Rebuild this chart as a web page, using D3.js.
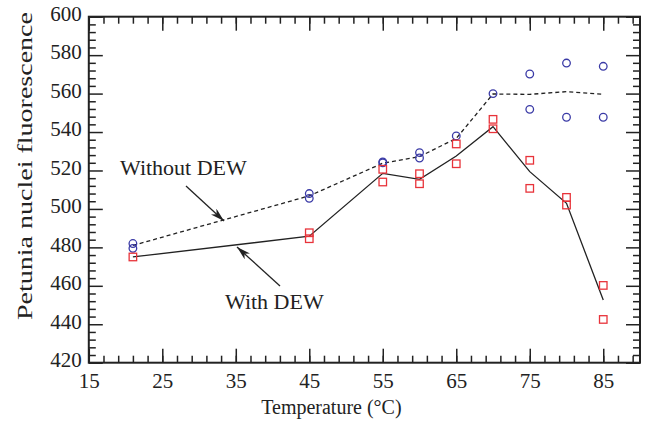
<!DOCTYPE html>
<html><head><meta charset="utf-8">
<script src="https://cdn.jsdelivr.net/npm/d3@7"></script>
<style>
body{margin:0;background:#fff;}
svg text{font-family:"Liberation Serif","Times New Roman",serif;fill:#222;}
</style></head>
<body><svg id="c" width="645" height="424"></svg>
<script>
// ---- data ----
const xMajorTicks = [15,25,35,45,55,65,75,85];
const yMajorTicks = [420,440,460,480,500,520,540,560,580,600];
const withoutX = [21,21,45,45,55,55,60,60,65,70,75,75,80,80,85,85];
const withoutY = [482,479.5,508,505.5,524.5,524,529.3,526.5,538,560,570.2,551.8,575.9,547.7,574.2,547.7];
const withX = [21,45,45,55,55,60,60,65,65,70,70,75,75,80,80,85,85];
const withY = [475,487.6,484.5,520.6,514,518.3,513.1,533.8,523.5,546.6,541.7,525.3,510.7,506,502,460.2,442.5];
const withoutLineX = [21,45,55,60,65,70,75,80,85];
const withoutLineY = [481,506.8,523.8,527.2,536.7,559.8,559.6,561,559.6];
const withLineX = [21,45,55,60,65,70,75,80,85];
const withLineY = [475,485.8,518.5,515.4,527.5,542.8,519.4,502.9,452.6];
const labels = {x:"Temperature (°C)", y:"Petunia nuclei fluorescence", without:"Without DEW", with:"With DEW"};

const svg = d3.select("#c");
const L=88.8, R=640, T=16.7, B=362.7;
const x = d3.scaleLinear().domain([15,90]).range([L,R]);
const y = d3.scaleLinear().domain([420,600]).range([B,T]);
const xMinor = d3.range(17,90,2);
const yMinor = d3.range(424,600,4).filter(v=>(v-420)%20!==0);

function styleAxis(g){ g.select(".domain").remove(); g.selectAll(".tick line").attr("stroke","#222").attr("stroke-width",1.5); }
// bottom
svg.append("g").attr("transform",`translate(0,${B})`).call(d3.axisBottom(x).tickValues(xMajorTicks).tickSize(-14).tickPadding(0).tickFormat(d3.format("d")))
  .call(styleAxis).call(g=>g.selectAll("text").attr("font-size",21).attr("dy","1.05em").attr("y",3).style("font-family","Liberation Serif"));
svg.append("g").attr("transform",`translate(0,${B})`).call(d3.axisBottom(x).tickValues(xMinor).tickSize(-7).tickFormat("")).call(styleAxis);
// top
svg.append("g").attr("transform",`translate(0,${T})`).call(d3.axisTop(x).tickValues(xMajorTicks).tickSize(-14).tickFormat("")).call(styleAxis);
svg.append("g").attr("transform",`translate(0,${T})`).call(d3.axisTop(x).tickValues(xMinor).tickSize(-7).tickFormat("")).call(styleAxis);
// left
svg.append("g").attr("transform",`translate(${L},0)`).call(d3.axisLeft(y).tickValues(yMajorTicks).tickSize(-14).tickPadding(0).tickFormat(d3.format("d")))
  .call(styleAxis).call(g=>g.selectAll("text").attr("font-size",21).attr("x",-7).attr("dy","0.18em").style("font-family","Liberation Serif"));
svg.append("g").attr("transform",`translate(${L},0)`).call(d3.axisLeft(y).tickValues(yMinor).tickSize(-7).tickFormat("")).call(styleAxis);
// right
svg.append("g").attr("transform",`translate(${R},0)`).call(d3.axisRight(y).tickValues(yMajorTicks).tickSize(-14).tickFormat("")).call(styleAxis);
svg.append("g").attr("transform",`translate(${R},0)`).call(d3.axisRight(y).tickValues(yMinor).tickSize(-7).tickFormat("")).call(styleAxis);
// frame
svg.append("rect").attr("x",L).attr("y",T).attr("width",R-L).attr("height",B-T).attr("fill","none").attr("stroke","#222").attr("stroke-width",2);

// lines
const line = d3.line().x(d=>x(d[0])).y(d=>y(d[1]));
svg.append("path").datum(withoutLineX.map((v,i)=>[v,withoutLineY[i]])).attr("d",line)
  .attr("fill","none").attr("stroke","#222").attr("stroke-width",1.3).attr("stroke-dasharray","4,3");
svg.append("path").datum(withLineX.map((v,i)=>[v,withLineY[i]])).attr("d",line)
  .attr("fill","none").attr("stroke","#222").attr("stroke-width",1.3);

// markers
svg.append("g").selectAll("circle").data(withoutX.map((v,i)=>[v,withoutY[i]])).join("circle")
  .attr("cx",d=>x(d[0])).attr("cy",d=>y(d[1])).attr("r",3.8).attr("fill","none").attr("stroke","#3a3aa6").attr("stroke-width",1.3);
const s=7.5;
svg.append("g").selectAll("rect").data(withX.map((v,i)=>[v,withY[i]])).join("rect")
  .attr("x",d=>x(d[0])-s/2).attr("y",d=>y(d[1])-s/2).attr("width",s).attr("height",s).attr("fill","none").attr("stroke","#e8333a").attr("stroke-width",1.3);

// arrows
const defs = svg.append("defs");
defs.append("marker").attr("id","ah").attr("viewBox","0 0 14 8").attr("refX",14).attr("refY",4)
  .attr("markerWidth",14).attr("markerHeight",8).attr("markerUnits","userSpaceOnUse").attr("orient","auto")
  .append("path").attr("d","M0,0 L14,4 L0,8 L4,4 Z").attr("fill","#222");
svg.append("line").attr("x1",186).attr("y1",186).attr("x2",224).attr("y2",221).attr("stroke","#222").attr("stroke-width",1.3).attr("marker-end","url(#ah)");
svg.append("line").attr("x1",280).attr("y1",286).attr("x2",237).attr("y2",247).attr("stroke","#222").attr("stroke-width",1.3).attr("marker-end","url(#ah)");

// annotations
svg.append("text").attr("x",120).attr("y",175).attr("font-size",22).text(labels.without);
svg.append("text").attr("x",225).attr("y",309).attr("font-size",22).text(labels.with);
// axis titles
svg.append("text").attr("x",(L+R)/2 - 33).attr("y",414).attr("text-anchor","middle").attr("font-size",20).text(labels.x);
svg.append("text").attr("transform","translate(32,166) rotate(-90)").attr("text-anchor","middle").attr("font-size",21)
  .attr("textLength",308).attr("lengthAdjust","spacingAndGlyphs").text(labels.y);
</script></body></html>
